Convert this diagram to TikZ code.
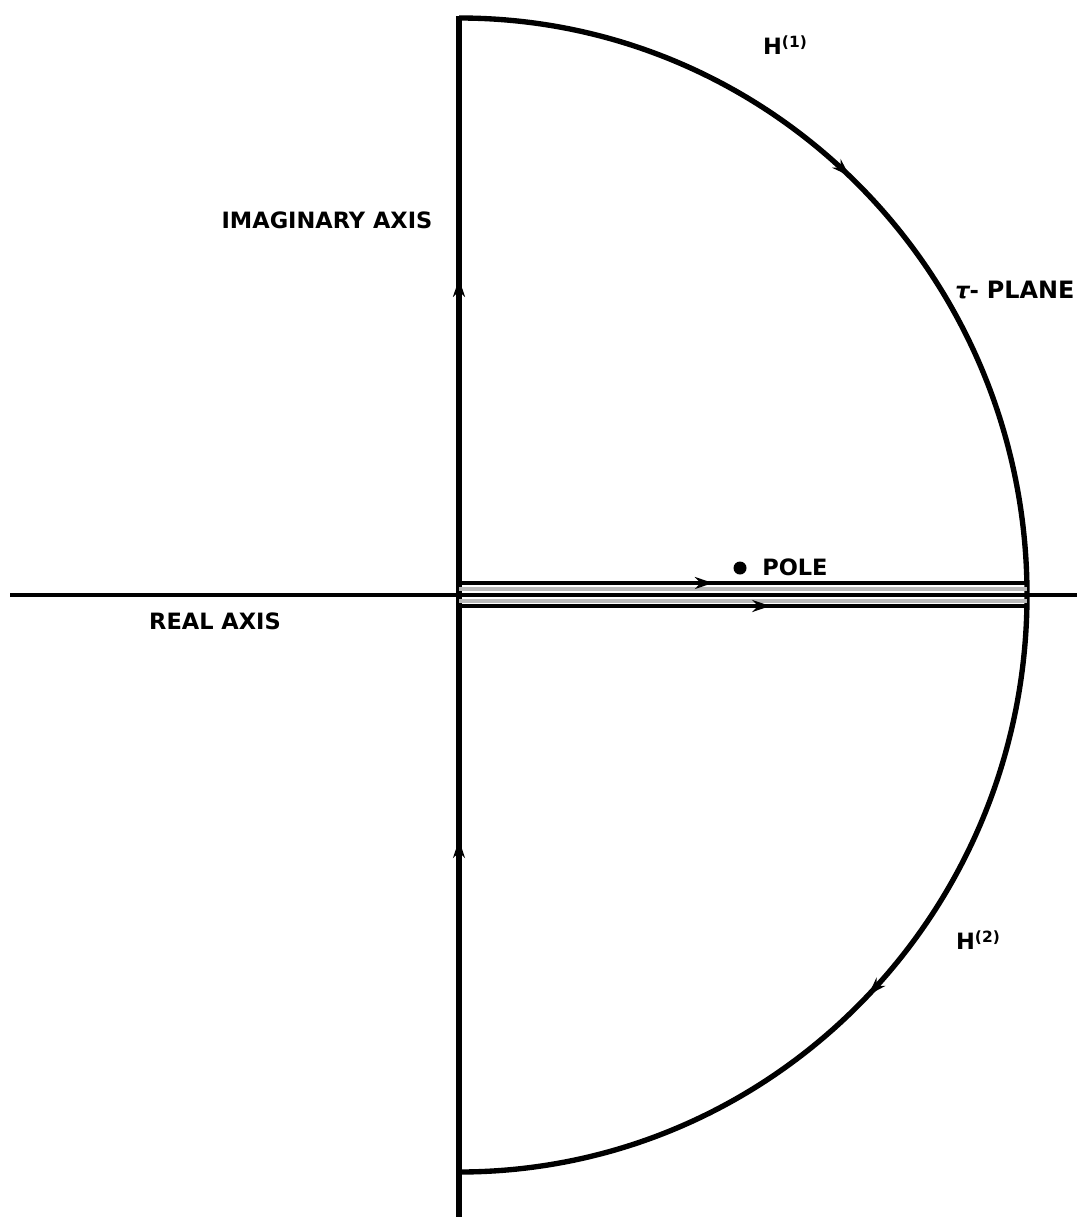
\documentclass[tikz,border=0pt]{standalone}
\usepackage{fontspec}
\newfontfamily\lblfont{DejaVu Sans}
\usetikzlibrary{arrows.meta,decorations.markings}

\tikzset{
  lbl/.style={font=\lblfont\bfseries\fontsize{16}{18}\selectfont,inner sep=0pt},
  path/.style={line width=3.8pt},
  thinline/.style={line width=2.4pt,gray!55},
  flow/.style={postaction={decorate},decoration={markings,mark=at position #1 with {\arrow{>}}}}
}

\begin{document}
\begin{tikzpicture}[x=0.025cm,y=-0.025cm,>={Stealth[length=4.5mm,width=3mm]}]
\useasboundingbox (0,0) rectangle (1077,1217);
% axes
\coordinate (O) at (459,595);
\coordinate (top) at (459,18);
\coordinate (right) at (1027,595);
\coordinate (bot) at (459,1172);
\draw[line width=2.2pt] (10,595) -- (1077,595);
\draw[path,flow=0.546] (O) -- (459,16);
\draw[path,flow=0.606] (459,1217) -- (O);
% the two half arcs
\draw[path,flow=0.48] (top) arc[start angle=-90,end angle=0,x radius=568,y radius=577];
\draw[path,flow=0.49] (right) arc[start angle=0,end angle=90,x radius=568,y radius=577];
% strip along the real axis
\draw[thinline] (459,589) -- (1027,589);
\draw[thinline] (459,601) -- (1027,601);
\draw[line width=2.2pt] (459,595) -- (1027,595);
\draw[line width=2.8pt,flow=0.447] (459,583) -- (1027,583);
\draw[line width=2.8pt,flow=0.548] (459,606) -- (1027,606);
% pole
\fill (740,568) circle (6.5);
\node[lbl,anchor=west] (pole) at (762,567) {POLE};
% labels
\node[lbl] (imag) at (327,220) {IMAGINARY AXIS};
\node[lbl] (real) at (215,621) {REAL AXIS};
\node[lbl,anchor=west] (plane) at (955,290) {\itshape τ\upshape- \fontsize{17}{18}\selectfont PLANE};
\node[lbl] (h1) at (785,45) {H\raisebox{0.6ex}{\fontsize{11}{12}\selectfont(1)}};
\node[lbl] (h2) at (978,940) {H\raisebox{0.6ex}{\fontsize{11}{12}\selectfont(2)}};
\end{tikzpicture}
\end{document}
